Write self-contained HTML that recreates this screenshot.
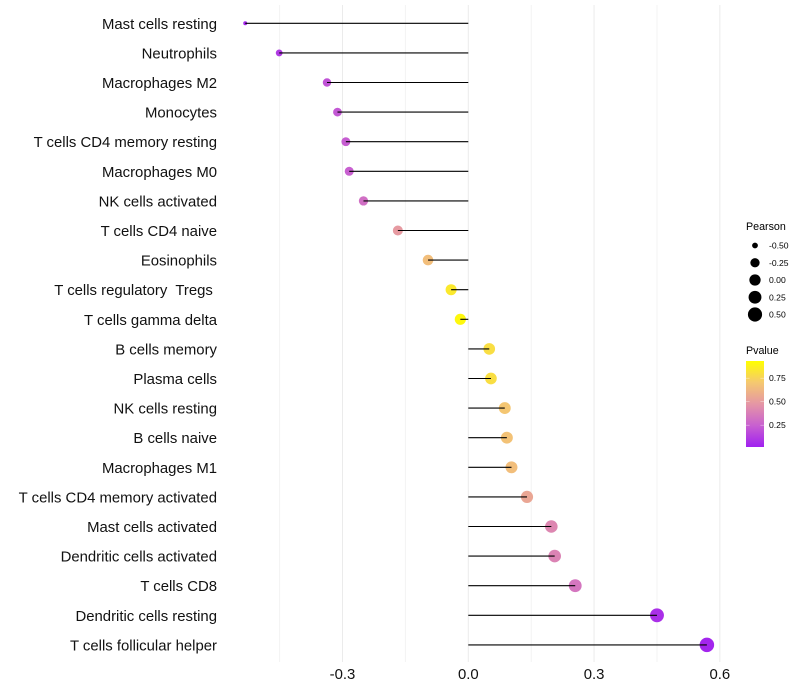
<!DOCTYPE html>
<html>
<head>
<meta charset="utf-8">
<title>Immune cell correlation lollipop chart</title>
<style>
html,body{margin:0;padding:0;background:#fff;}
svg{display:block;font-family:"Liberation Sans",sans-serif;}
text{white-space:pre;}
</style>
</head>
<body>
<svg id="chart" xmlns="http://www.w3.org/2000/svg" width="800" height="700" viewBox="0 0 800 700">
<defs>
<linearGradient id="pvalue-gradient" x1="0" y1="1" x2="0" y2="0">
<stop offset="0" stop-color="#a020f0"/>
<stop offset="0.25" stop-color="#c860d0"/>
<stop offset="0.5" stop-color="#e596a5"/>
<stop offset="0.75" stop-color="#f5c870"/>
<stop offset="1" stop-color="#ffff00"/>
</linearGradient>
</defs>
<g id="grid"></g>
<g id="marks"></g>
<g id="y-axis"></g>
<g id="x-axis"></g>
<g id="size-legend"></g>
<g id="color-legend"></g>
</svg>
<script>
const categories = ["Mast cells resting","Neutrophils","Macrophages M2","Monocytes","T cells CD4 memory resting","Macrophages M0","NK cells activated","T cells CD4 naive","Eosinophils","T cells regulatory  Tregs ","T cells gamma delta","B cells memory","Plasma cells","NK cells resting","B cells naive","Macrophages M1","T cells CD4 memory activated","Mast cells activated","Dendritic cells activated","T cells CD8","Dendritic cells resting","T cells follicular helper"];
const pearson = [-0.532,-0.451,-0.337,-0.312,-0.292,-0.284,-0.25,-0.168,-0.096,-0.041,-0.019,0.05,0.054,0.087,0.092,0.103,0.14,0.198,0.206,0.255,0.45,0.569];
const pvalue = [0.03,0.1,0.2,0.22,0.24,0.25,0.32,0.52,0.7,0.9,0.97,0.85,0.85,0.74,0.72,0.7,0.58,0.43,0.41,0.35,0.06,0.02];
const xMajorTicks = [-0.3,0,0.3,0.6];
const xMinorTicks = [-0.45,-0.15,0.15,0.45];
const sizeLegendValues = [-0.5,-0.25,0,0.25,0.5];
const colorLegendValues = [0.25,0.5,0.75];

const NS = "http://www.w3.org/2000/svg";
function make(tag, attrs, parent, text) {
  const el = document.createElementNS(NS, tag);
  for (const k in attrs) el.setAttribute(k, attrs[k]);
  if (text !== undefined) el.textContent = text;
  parent.appendChild(el);
  return el;
}
function slug(s) {
  return s.trim().toLowerCase().replace(/\s+/g, '-');
}
function xScale(v) { return 468.3 + v * 419.3; }
function yScale(i) { return 23.3 + i * 29.6; }
function radius(v) {
  const lo = Math.min(...pearson), hi = Math.max(...pearson);
  const t = Math.max(0, Math.min(1, (v - lo) / (hi - lo)));
  return 2 + 5.25 * Math.sqrt(t);
}
const colorStops = [[0,[160,32,240]],[0.25,[200,96,208]],[0.5,[229,150,165]],[0.75,[245,200,112]],[1,[255,255,0]]];
function colorScale(p) {
  const t = Math.max(0, Math.min(1, p));
  for (let i = 1; i < colorStops.length; i++) {
    if (t <= colorStops[i][0]) {
      const a = colorStops[i-1], b = colorStops[i];
      const f = (t - a[0]) / (b[0] - a[0]);
      const c = a[1].map((v, j) => Math.round(v + (b[1][j] - v) * f));
      return "rgb(" + c.join(",") + ")";
    }
  }
  return "rgb(255,255,0)";
}

const grid = document.getElementById('grid');
xMinorTicks.forEach(function (t) {
  const l = make('line', {x1: xScale(t), x2: xScale(t), y1: 5, y2: 662, stroke: '#f3f3f3', 'stroke-width': 1}, grid);
  
  
});
xMajorTicks.forEach(function (t) {
  const l = make('line', {x1: xScale(t), x2: xScale(t), y1: 5, y2: 662, stroke: '#ebebeb', 'stroke-width': 1}, grid);
  
  
});

const marks = document.getElementById('marks');
const yAxis = document.getElementById('y-axis');
categories.forEach(function (name, i) {
  const y = yScale(i);
  const dot = make('circle', {cx: xScale(pearson[i]), cy: y, r: radius(pearson[i]), fill: colorScale(pvalue[i])}, marks);
  
  
  const seg = make('line', {x1: xScale(0), x2: xScale(pearson[i]), y1: y, y2: y, stroke: '#000', 'stroke-width': 1.1}, marks);
  
  
  const lab = make('text', {x: 217, y: y + 5.5, 'text-anchor': 'end', 'font-size': 14.9, fill: '#111'}, yAxis, name);
  
  
});

const xAxis = document.getElementById('x-axis');
xMajorTicks.forEach(function (t) {
  const lab = make('text', {x: xScale(t), y: 679, 'text-anchor': 'middle', 'font-size': 14.9, fill: '#111'}, xAxis, t.toFixed(1));
  
  
});

const sizeLegend = document.getElementById('size-legend');
const sizeTitle = make('text', {x: 746, y: 230, 'font-size': 10.7, fill: '#000'}, sizeLegend, 'Pearson');


sizeLegendValues.forEach(function (v, i) {
  const y = 245.5 + i * 17.25;
  const c = make('circle', {cx: 755, cy: y, r: radius(v), fill: '#000'}, sizeLegend);
  
  
  const t = make('text', {x: 769, y: y + 3, 'font-size': 8.6, fill: '#000'}, sizeLegend, v.toFixed(2));
  
  
});

const colorLegend = document.getElementById('color-legend');
const colorTitle = make('text', {x: 746, y: 354, 'font-size': 10.7, fill: '#000'}, colorLegend, 'Pvalue');


const bar = make('rect', {x: 746, y: 361, width: 18, height: 86, fill: 'url(#pvalue-gradient)'}, colorLegend);


function legendY(p) { return 448.7 - p * 94; }
colorLegendValues.forEach(function (p) {
  const y = legendY(p);
  const a = make('line', {x1: 746, x2: 749.6, y1: y, y2: y, stroke: '#fff', 'stroke-opacity': 0.6, 'stroke-width': 0.6}, colorLegend);
  
  
  const b = make('line', {x1: 760.4, x2: 764, y1: y, y2: y, stroke: '#fff', 'stroke-opacity': 0.6, 'stroke-width': 0.6}, colorLegend);
  
  
  const t = make('text', {x: 769, y: y + 3, 'font-size': 8.6, fill: '#000'}, colorLegend, p.toFixed(2));
  
  
});
</script>
</body>
</html>
